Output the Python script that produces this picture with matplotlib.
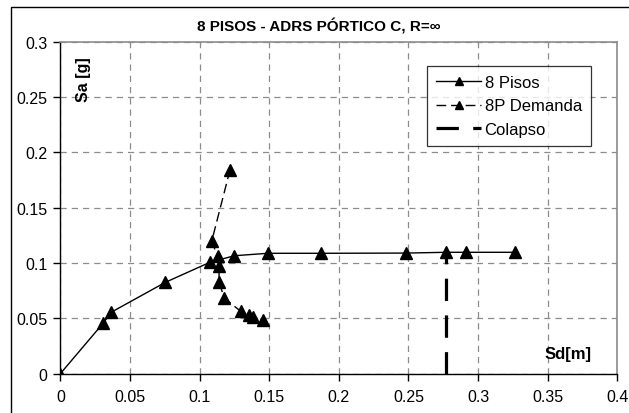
import matplotlib
matplotlib.use("Agg")
import matplotlib.pyplot as plt
from matplotlib.patches import Rectangle

plt.rcParams['font.family'] = ['Liberation Sans', 'DejaVu Sans']

# capacity curve (8 Pisos)
sd_pisos = [0.0, 0.031, 0.0365, 0.0755, 0.1075, 0.125, 0.149, 0.187, 0.248, 0.277, 0.291, 0.3265]
sa_pisos = [0.0, 0.046, 0.0555, 0.0826, 0.1007, 0.1066, 0.1088, 0.1088, 0.109, 0.1097, 0.1097, 0.1097]

# demand points (8P Demanda)
sd_dem = [0.1219, 0.1087, 0.113, 0.114, 0.114, 0.1178, 0.1295, 0.1358, 0.1386, 0.1458]
sa_dem = [0.1843, 0.1196, 0.106, 0.097, 0.0826, 0.0684, 0.0564, 0.0533, 0.0515, 0.0485]

# collapse line
sd_col = [0.277, 0.277]
sa_col = [0.0, 0.11]

xticks = [0, 0.05, 0.1, 0.15, 0.2, 0.25, 0.3, 0.35, 0.4]
yticks = [0, 0.05, 0.1, 0.15, 0.2, 0.25, 0.3]

fig = plt.figure(figsize=(6.29, 4.14), dpi=100)
ax = fig.add_axes([0.0959, 0.0949, 0.8855, 0.802])

# outer chart border
fig.patches.append(Rectangle((10.5 / 629, -0.1), 1.2, 1.1 - 8 / 414,
                             transform=fig.transFigure, fill=False,
                             edgecolor='black', lw=1.0))

ax.plot(sd_pisos, sa_pisos, color='black', lw=1.0, marker='^', ms=8.5,
        label='8 Pisos', zorder=4)
ax.plot(sd_dem, sa_dem, color='black', lw=1.0, dashes=(7, 3.5), marker='^', ms=8.5,
        label='8P Demanda', zorder=4)
ax.plot(sd_col, sa_col, color='black', lw=2.3, dashes=(7, 4.5),
        label='Colapso', zorder=3)

ax.set_xlim(0, 0.4)
ax.set_ylim(0, 0.3)
ax.set_xticks(xticks)
ax.set_yticks(yticks)
ax.set_xticklabels(['0', '0.05', '0.1', '0.15', '0.2', '0.25', '0.3', '0.35', '0.4'])
ax.set_yticklabels(['0', '0.05', '0.1', '0.15', '0.2', '0.25', '0.3'])
ax.tick_params(axis='both', labelsize=11.5, length=5, width=1, color='black')
ax.tick_params(axis='x', pad=6)
ax.tick_params(axis='y', pad=4.5)

ax.grid(True, color='#8c8c8c', lw=0.9, dashes=(5, 4))
ax.set_axisbelow(True)

for s in ['top', 'right']:
    ax.spines[s].set_color('#8c8c8c')
    ax.spines[s].set_linewidth(1.2)
for s in ['left', 'bottom']:
    ax.spines[s].set_color('black')
    ax.spines[s].set_linewidth(1.0)

fig.text(318.5 / 629, 1 - 26.7 / 414, '8 PISOS - ADRS PÓRTICO C, R=∞',
         ha='center', va='center', fontsize=11, fontweight='bold')
ax.text(0.042, 0.955, 'Sa [g]', transform=ax.transAxes, rotation=90,
        ha='center', va='top', fontsize=11.5, fontweight='bold')
ax.text(0.953, 0.062, 'Sd[m]', transform=ax.transAxes,
        ha='right', va='center', fontsize=12, fontweight='bold')

leg = ax.legend(loc='upper left', bbox_to_anchor=((427 - 60.3) / 557, 1 - (67 - 42.7) / 332),
                fontsize=12, frameon=True, fancybox=False, edgecolor='black',
                borderaxespad=0, handlelength=2.7, handletextpad=0.2,
                labelspacing=0.5, borderpad=0.55, markerscale=0.7)
leg.get_frame().set_linewidth(0.9)

fig.savefig('out.png', dpi=100)
